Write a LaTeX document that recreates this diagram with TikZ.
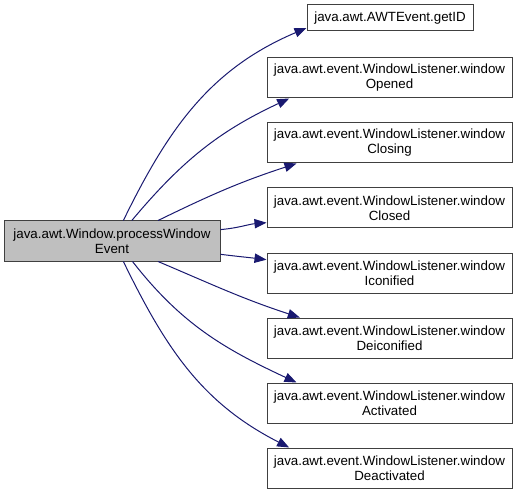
\documentclass[tikz,border=0pt]{standalone}
\usepackage{fontspec}
\setmainfont{Liberation Sans}
\usepackage{tikz}
\usetikzlibrary{arrows.meta}
\definecolor{edgeblue}{HTML}{191970}
\definecolor{rootgray}{HTML}{BFBFBF}
\definecolor{boxline}{HTML}{404040}

\begin{document}
\begin{tikzpicture}[
		x=0.75pt, y=-0.75pt,
		every node/.style={draw=boxline, line width=0.75pt, inner sep=0pt, align=center,
				font=\fontsize{10}{11.3}\selectfont},
		rootbox/.style={fill=rootgray, minimum width=162pt, minimum height=30pt},
		funcbox/.style={fill=white, minimum width=183.75pt, minimum height=30pt},
		idbox/.style={fill=white, minimum width=124.5pt, minimum height=19.5pt},
		call/.style={draw=edgeblue, line width=0.75pt,
				-{Triangle[length=9pt, width=7pt, fill=edgeblue]}}
	]
	\useasboundingbox (0,0) rectangle (517,495);

	\node[rootbox] (root) at (112,241) {java.awt.Window.processWindow\\Event};

	\node[idbox] (getid) at (390,18) {java.awt.AWTEvent.getID};
	\node[funcbox] (opened) at (389.5,78) {java.awt.event.WindowListener.window\\Opened};
	\node[funcbox] (closing) at (389.5,143) {java.awt.event.WindowListener.window\\Closing};
	\node[funcbox] (closed) at (389.5,208) {java.awt.event.WindowListener.window\\Closed};
	\node[funcbox] (iconified) at (389.5,273) {java.awt.event.WindowListener.window\\Iconified};
	\node[funcbox] (deiconified) at (389.5,338) {java.awt.event.WindowListener.window\\Deiconified};
	\node[funcbox] (activated) at (389.5,403) {java.awt.event.WindowListener.window\\Activated};
	\node[funcbox] (deactivated) at (389.5,468) {java.awt.event.WindowListener.window\\Deactivated};

	% calls going up
	\draw[call] (root.61) to[out=64, in=203] ([yshift=-7.5pt]getid.west);
	\draw[call] (root.46) to[out=50, in=205] ([xshift=17pt]opened.south west);
	\draw[call] (root.24) to[out=26, in=198] ([xshift=22.5pt]closing.south west);
	\draw[call] (root.6) to[out=5, in=185] ([yshift=-11pt]closed.west);

	% calls going down
	\draw[call] (root.-7) to[out=-7, in=173] ([yshift=10pt]iconified.west);
	\draw[call] (root.-24) to[out=-23, in=162] ([xshift=25pt]deiconified.north west);
	\draw[call] (root.-45) to[out=-52, in=155] ([xshift=22.5pt]activated.north west);
	\draw[call] (root.-61) to[out=-64, in=153] ([xshift=17pt]deactivated.north west);
\end{tikzpicture}
\end{document}
